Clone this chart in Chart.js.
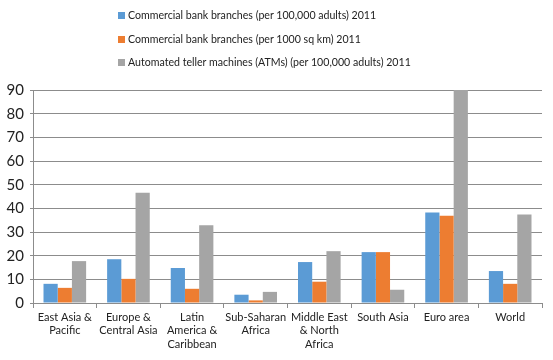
<!DOCTYPE html>
<html>
<head>
<meta charset="utf-8">
<script src="https://cdn.jsdelivr.net/npm/chart.js@4.4.0/dist/chart.umd.min.js"></script>
<style>
  body { margin: 0; background: #fff; font-family: Lato, sans-serif; }
  #wrap { position: relative; width: 553px; height: 360px; }
  #legend { position: absolute; left: 118px; top: 6px; font-size: 10.6px; color: #222; }
  .item { height: 23.5px; line-height: 18px; white-space: nowrap; }
  .box { display: inline-block; width: 7px; height: 7px; margin-right: 3px; vertical-align: 0px; }
</style>
</head>
<body>
<div id="wrap">
  <canvas id="chart" width="553" height="360"></canvas>
  <div id="legend"></div>
</div>
<script>
// ---------- DATA ----------
const regions = [
  ["East Asia &", "Pacific"],
  ["Europe &", "Central Asia"],
  ["Latin", "America &", "Caribbean"],
  ["Sub-Saharan", "Africa"],
  ["Middle East", "& North", "Africa"],
  ["South Asia"],
  ["Euro area"],
  ["World"]
];
const seriesNames = [
  "Commercial bank branches (per 100,000 adults) 2011",
  "Commercial bank branches (per 1000 sq km) 2011",
  "Automated teller machines (ATMs) (per 100,000 adults) 2011"
];
const branchesPerAdults = [8.1, 18.5, 14.8, 3.5, 17.3, 21.5, 38.2, 13.5];
const branchesPerArea = [6.4, 10.2, 6.0, 1.1, 9.0, 21.5, 36.9, 8.1];
const atmsPerAdults = [17.7, 46.6, 32.8, 4.7, 21.9, 5.6, 90, 37.4];
const yTicks = [0, 10, 20, 30, 40, 50, 60, 70, 80, 90];

const colors = ["#5B9BD5", "#ED7D31", "#A5A5A5"];
const values = [branchesPerAdults, branchesPerArea, atmsPerAdults];

// Legend (stacked, left aligned like the original)
const legendEl = document.getElementById("legend");
seriesNames.forEach((name, i) => {
  const row = document.createElement("div");
  row.className = "item";
  row.innerHTML = `<span class="box" style="background:${colors[i]}"></span>${name}`;
  legendEl.appendChild(row);
});

const ctx = document.getElementById("chart").getContext("2d");
new Chart(ctx, {
  type: "bar",
  data: {
    labels: regions,
    datasets: seriesNames.map((name, i) => ({
      label: name,
      data: values[i],
      backgroundColor: colors[i],
      categoryPercentage: 0.67,
      barPercentage: 1
    }))
  },
  options: {
    responsive: false,
    animation: false,
    layout: { padding: { top: 90, right: 11, left: 0, bottom: 0 } },
    plugins: {
      legend: { display: false },
      tooltip: { enabled: false }
    },
    scales: {
      x: {
        grid: { display: true, offset: true, drawOnChartArea: false, color: "#8c8c8c", tickLength: 5 },
        border: { color: "#8c8c8c" },
        ticks: { color: "#222", font: { family: "Lato", size: 11 }, maxRotation: 0, autoSkip: false, padding: 3 },
        afterFit: (scale) => { scale.height = 57; }
      },
      y: {
        min: 0,
        max: 90,
        afterBuildTicks: (scale) => { scale.ticks = yTicks.map(v => ({ value: v })); },
        grid: { color: "#8c8c8c", tickLength: 3 },
        border: { color: "#8c8c8c" },
        ticks: { color: "#222", font: { family: "Lato", size: 15 }, padding: 6 },
        afterFit: (scale) => { scale.width = 33; }
      }
    }
  }
});
</script>
</body>
</html>
